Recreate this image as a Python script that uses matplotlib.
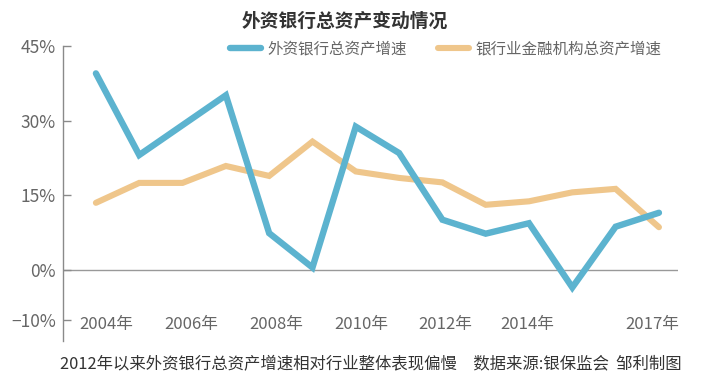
import matplotlib
matplotlib.use("Agg")
import matplotlib.pyplot as plt

plt.rcParams['font.family'] = ['Noto Sans CJK SC', 'DejaVu Sans']

years = [2004, 2005, 2006, 2007, 2008, 2009, 2010, 2011, 2012, 2013, 2014, 2015, 2016, 2017]
foreign_growth = [39.5, 23.1, 29.1, 35.1, 7.4, 0.5, 28.8, 23.5, 10.1, 7.3, 9.4, -3.5, 8.7, 11.5]
industry_growth = [13.5, 17.5, 17.5, 20.9, 18.9, 25.8, 19.8, 18.5, 17.6, 13.1, 13.8, 15.6, 16.3, 8.6]

series_names = ['外资银行总资产增速', '银行业金融机构总资产增速']
yticks = [-10, 0, 15, 30, 45]
ytick_labels = ['−10%', '0%', '15%', '30%', '45%']
xtick_labels = ['2004年', '2006年', '2008年', '2010年', '2012年', '2014年', '2017年']
xtick_pos = [2004.23, 2006.19, 2008.16, 2010.12, 2012.06, 2013.95, 2016.85]

title = '外资银行总资产变动情况'
caption = '2012年以来外资银行总资产增速相对行业整体表现偏慢　数据来源:银保监会  邹利制图'

blue = '#5CB3CF'
orange = '#EFC68B'

fig = plt.figure(figsize=(7.05, 3.84), dpi=100)
ax = fig.add_axes([63/705, 1-340.7/384, (678-63)/705, (340.7-46)/384])

ax.plot(years, foreign_growth, color=blue, lw=4.6, solid_capstyle='round',
        solid_joinstyle='miter', label=series_names[0], zorder=3)
ax.plot(years, industry_growth, color=orange, lw=4.4, solid_capstyle='round',
        solid_joinstyle='miter', label=series_names[1], zorder=2)

ax.axhline(0, color='#999999', lw=1.0, zorder=1)

ax.set_xlim(2003.24, 2017.44)
ax.set_ylim(-14.2, 45)

for s in ['top', 'right', 'bottom']:
    ax.spines[s].set_visible(False)
ax.spines['left'].set_color('#8a8a8a')
ax.spines['left'].set_linewidth(1.0)

ax.set_yticks(yticks)
ax.set_yticklabels(ytick_labels)
ax.tick_params(axis='y', direction='in', length=6, width=1, color='#8a8a8a',
               labelsize=12.5, labelcolor='#666666', pad=5)

ax.set_xticks(xtick_pos)
ax.set_xticklabels(xtick_labels)
ax.tick_params(axis='x', length=0, labelsize=12, labelcolor='#666666', pad=-18)

for lab in ax.get_xticklabels() + ax.get_yticklabels():
    lab.set_fontweight('light')

fig.text(345/705, 1-21/384, title, ha='center', va='center', fontsize=13.5,
         fontweight='bold', color='#333333')

leg = fig.legend(loc='center left', bbox_to_anchor=(230/705, 1-49/384), ncol=2,
                 frameon=False, fontsize=11.2, handlelength=2.0, handletextpad=0.4,
                 columnspacing=2.0, borderpad=0, borderaxespad=0)
for t in leg.get_texts():
    t.set_color('#666666')
    t.set_fontweight('light')

fig.text(371/705, 1-365/384, caption, ha='center', va='center', fontsize=11.8,
         color='#333333')

fig.savefig('out.png', dpi=100)
